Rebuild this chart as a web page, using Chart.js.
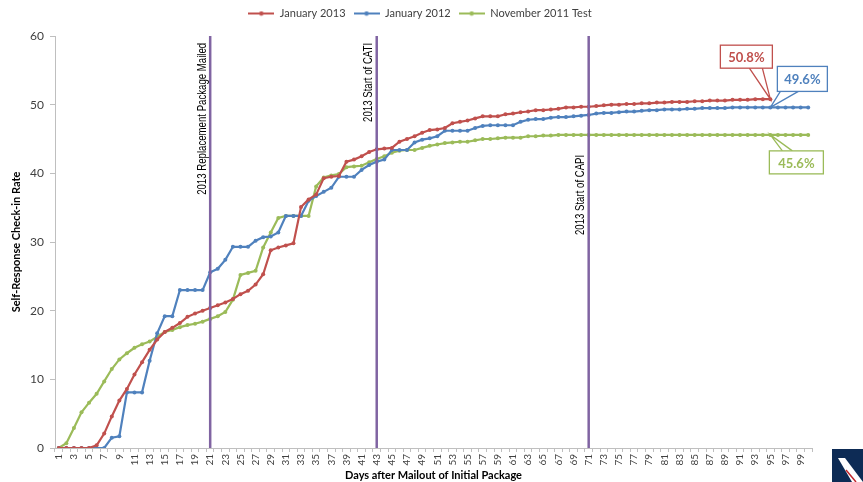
<!doctype html>
<html lang="en">

<head>
    <meta charset="utf-8">
    <title>Self-Response Check-in Rate</title>
    <style>
        html, body { margin: 0; padding: 0; background: #fff; }
        #wrap { width: 863px; height: 482px; }
    </style>
</head>

<body>
    <div id="wrap"><canvas id="myChart" width="863" height="482"></canvas></div>

    <script src="https://cdn.jsdelivr.net/npm/chart.js@4.3.0/dist/chart.umd.min.js"></script>
    <script>
        // days 1..100
        const days = [];
        for (let d = 1; d <= 100; d++) days.push(String(d));

        const jan2013 = [
            0, 0, 0, 0, 0, 0.4, 2.1, 4.6, 6.9, 8.6,
            10.7, 12.5, 14.3, 15.8, 16.9, 17.5, 18.2, 19.1, 19.6, 20.0,
            20.4, 20.8, 21.2, 21.7, 22.4, 22.9, 23.8, 25.3, 28.8, 29.2,
            29.5, 29.8, 35.1, 36.2, 36.9, 39.3, 39.5, 39.6, 41.7, 42.0,
            42.5, 43.1, 43.5, 43.6, 43.7, 44.6, 45.0, 45.4, 45.9, 46.3,
            46.4, 46.6, 47.3, 47.5, 47.7, 48.0, 48.3, 48.3, 48.3, 48.6,
            48.7, 48.9, 49.0, 49.2, 49.2, 49.3, 49.4, 49.6, 49.6, 49.7,
            49.7, 49.8, 49.9, 50.0, 50.0, 50.1, 50.1, 50.2, 50.2, 50.3,
            50.3, 50.4, 50.4, 50.4, 50.5, 50.5, 50.6, 50.6, 50.6, 50.7,
            50.7, 50.7, 50.8, 50.8, 50.8, null, null, null, null, null
        ];

        const jan2012 = [
            0, 0, 0, 0, 0, 0, 0, 1.5, 1.7, 8.1,
            8.1, 8.1, 12.7, 16.7, 19.2, 19.2, 23.0, 23.0, 23.0, 23.0,
            25.6, 26.1, 27.4, 29.3, 29.3, 29.3, 30.2, 30.7, 30.8, 31.4,
            33.8, 33.8, 33.8, 36.0, 36.7, 37.3, 37.9, 39.5, 39.5, 39.5,
            40.5, 41.2, 41.7, 42.0, 43.4, 43.4, 43.4, 44.5, 44.9, 45.1,
            45.4, 46.2, 46.2, 46.2, 46.2, 46.6, 46.9, 47.0, 47.0, 47.0,
            47.0, 47.5, 47.8, 47.9, 47.9, 48.1, 48.2, 48.2, 48.3, 48.4,
            48.5, 48.7, 48.8, 48.8, 48.9, 49.0, 49.0, 49.1, 49.2, 49.2,
            49.3, 49.3, 49.3, 49.4, 49.4, 49.5, 49.5, 49.5, 49.5, 49.6,
            49.6, 49.6, 49.6, 49.6, 49.6, 49.6, 49.6, 49.6, 49.6, 49.6
        ];

        const nov2011 = [
            0, 0.7, 2.9, 5.2, 6.6, 7.9, 9.7, 11.5, 12.9, 13.8,
            14.6, 15.1, 15.5, 16.2, 16.9, 17.2, 17.6, 17.9, 18.1, 18.4,
            18.8, 19.2, 19.8, 21.6, 25.2, 25.5, 25.8, 29.2, 31.4, 33.5,
            33.8, 33.8, 33.8, 33.8, 38.1, 39.4, 39.7, 39.9, 40.9, 41.0,
            41.1, 41.6, 42.1, 42.5, 43.0, 43.3, 43.4, 43.4, 43.7, 44.0,
            44.2, 44.4, 44.5, 44.6, 44.6, 44.8, 45.0, 45.0, 45.1, 45.2,
            45.2, 45.2, 45.4, 45.4, 45.5, 45.5, 45.6, 45.6, 45.6, 45.6,
            45.6, 45.6, 45.6, 45.6, 45.6, 45.6, 45.6, 45.6, 45.6, 45.6,
            45.6, 45.6, 45.6, 45.6, 45.6, 45.6, 45.6, 45.6, 45.6, 45.6,
            45.6, 45.6, 45.6, 45.6, 45.6, 45.6, 45.6, 45.6, 45.6, 45.6
        ];

        // vertical event markers (day, label)
        const eventDays = ["21", "43", "71"];
        const eventLabels = ["2013 Replacement Package Mailed", "2013 Start of CATI", "2013 Start of CAPI"];

        // callouts at day 95
        const calloutDay = "95";
        const calloutText = ["50.8%", "49.6%", "45.6%"];

        const RED = '#c0504d', BLUE = '#4f81bd', GREEN = '#9bbb59', PURPLE = '#8064a2';
        const FONT = 'Lato, "Open Sans", sans-serif';
        const NARROW = '"Liberation Sans Narrow", "Liberation Sans", sans-serif';

        // legend swatch: short line with a marker dot in the middle
        function swatch(color) {
            const c = document.createElement('canvas');
            c.width = 26;
            c.height = 6;
            const g = c.getContext('2d');
            g.strokeStyle = color;
            g.lineWidth = 2;
            g.beginPath();
            g.moveTo(0, 3);
            g.lineTo(26, 3);
            g.stroke();
            g.fillStyle = color;
            g.beginPath();
            g.arc(13, 3, 2.2, 0, Math.PI * 2);
            g.fill();
            return c;
        }

        // extra room under the legend, and nudge it like the original
        const legendSpace = {
            id: 'legendSpace',
            afterInit(chart) {
                const lg = chart.legend;
                const fit = lg.fit;
                lg.fit = function () {
                    fit.call(this);
                    this.height += 7;
                };
            },
            afterLayout(chart) {
                chart.legend.left += 9;
                chart.legend.right += 9;
            }
        };

        const eventsPlugin = {
            id: 'events',
            afterDatasetsDraw(chart) {
                const ctx = chart.ctx, x = chart.scales.x, y = chart.scales.y, area = chart.chartArea;
                const labelTop = [y.getPixelForValue(59), y.getPixelForValue(59), y.getPixelForValue(42.7)];
                ctx.save();
                ctx.font = '13px ' + NARROW;
                const squeeze = 152 / ctx.measureText(eventLabels[0]).width;
                ctx.restore();
                eventDays.forEach((d, i) => {
                    const px = x.getPixelForValue(days.indexOf(d));
                    ctx.save();
                    ctx.strokeStyle = PURPLE;
                    ctx.lineWidth = 2.5;
                    ctx.beginPath();
                    ctx.moveTo(px, area.top);
                    ctx.lineTo(px, area.bottom);
                    ctx.stroke();
                    ctx.translate(px - 8, labelTop[i]);
                    ctx.rotate(-Math.PI / 2);
                    ctx.scale(squeeze, 1);
                    ctx.fillStyle = '#000';
                    ctx.font = '13px ' + NARROW;
                    ctx.textAlign = 'right';
                    ctx.textBaseline = 'middle';
                    ctx.fillText(eventLabels[i], 0, 0);
                    ctx.restore();
                });
            }
        };

        const calloutPlugin = {
            id: 'callouts',
            afterDraw(chart) {
                const ctx = chart.ctx;
                const idx = days.indexOf(calloutDay);
                // box offsets relative to the anchor point
                const boxes = [
                    { c: RED, dx: -50, dy: -54, w: 52, h: 23, w1: -21, w2: -8, edge: 'bottom' },
                    { c: BLUE, dx: 7, dy: -41, w: 50, h: 25, w1: 10, w2: 28, edge: 'bottom' },
                    { c: GREEN, dx: -1, dy: 16, w: 54, h: 23, w1: 12, w2: 22, edge: 'top' }
                ];
                chart.data.datasets.forEach((ds, i) => {
                    const pt = chart.getDatasetMeta(i).data[idx];
                    const b = boxes[i];
                    const left = pt.x + b.dx, top = pt.y + b.dy;
                    const ey = b.edge === 'bottom' ? top + b.h : top;
                    ctx.save();
                    ctx.fillStyle = '#fff';
                    ctx.strokeStyle = b.c;
                    ctx.lineWidth = 1.3;
                    ctx.beginPath();
                    ctx.moveTo(pt.x + b.w1, ey);
                    ctx.lineTo(pt.x, pt.y);
                    ctx.lineTo(pt.x + b.w2, ey);
                    ctx.stroke();
                    ctx.fillRect(left, top, b.w, b.h);
                    ctx.strokeRect(left, top, b.w, b.h);
                    ctx.fillStyle = b.c;
                    ctx.font = 'bold 13px ' + FONT;
                    ctx.textAlign = 'center';
                    ctx.textBaseline = 'middle';
                    ctx.fillText(calloutText[i], left + b.w / 2, top + b.h / 2 + 1);
                    ctx.restore();
                });

                // small logo corner
                ctx.save();
                ctx.fillStyle = '#0d2b55';
                ctx.fillRect(832, 449, 31, 33);
                ctx.fillStyle = '#fff';
                ctx.beginPath();
                ctx.moveTo(838, 458);
                ctx.lineTo(845, 458);
                ctx.lineTo(863, 482);
                ctx.lineTo(852, 482);
                ctx.closePath();
                ctx.fill();
                ctx.strokeStyle = '#c0272d';
                ctx.lineWidth = 1.5;
                ctx.beginPath();
                ctx.moveTo(846, 470);
                ctx.lineTo(856, 482);
                ctx.stroke();
                ctx.restore();
            }
        };

        function lineSet(label, values, color) {
            return {
                label: label,
                data: values,
                borderColor: color,
                backgroundColor: color,
                pointBackgroundColor: color,
                pointBorderColor: color,
                borderWidth: 2.2,
                pointRadius: 2,
                pointBorderWidth: 0,
                fill: false,
                tension: 0,
                spanGaps: false
            };
        }

        const swatches = [swatch(RED), swatch(BLUE), swatch(GREEN)];

        const config = {
            type: 'line',
            data: {
                labels: days,
                datasets: [
                    lineSet('January 2013', jan2013, RED),
                    lineSet('January 2012', jan2012, BLUE),
                    lineSet('November 2011 Test', nov2011, GREEN)
                ]
            },
            options: {
                responsive: false,
                animation: false,
                layout: { padding: { left: 10, right: 51, top: 0, bottom: 0 } },
                plugins: {
                    legend: {
                        position: 'top',
                        labels: {
                            usePointStyle: true,
                            pointStyleWidth: 26,
                            padding: 8,
                            color: '#404040',
                            font: { family: FONT, size: 11 },
                            generateLabels: chart => {
                                const items = Chart.defaults.plugins.legend.labels.generateLabels(chart);
                                items.forEach((it, i) => { it.pointStyle = swatches[i]; });
                                return items;
                            }
                        }
                    },
                    tooltip: { enabled: false }
                },
                scales: {
                    x: {
                        offset: true,
                        grid: { drawOnChartArea: false, color: '#bfbfbf', tickLength: 4, offset: true },
                        border: { color: '#bfbfbf' },
                        ticks: {
                            autoSkip: false,
                            maxRotation: 90,
                            minRotation: 90,
                            padding: 2,
                            color: '#404040',
                            font: { family: FONT, size: 10 },
                            callback: (v, i) => i % 2 === 0 ? days[i] : ''
                        },
                        title: {
                            display: true,
                            text: 'Days after Mailout of Initial Package',
                            color: '#000',
                            padding: { top: 0, bottom: 0 },
                            font: { family: FONT, size: 11, weight: 'bold' }
                        },
                        afterFit: s => { s.height = 34; }
                    },
                    y: {
                        min: 0,
                        max: 60,
                        ticks: {
                            stepSize: 10,
                            padding: 6,
                            color: '#404040',
                            font: { family: FONT, size: 12 }
                        },
                        grid: { drawOnChartArea: false, color: '#bfbfbf', tickLength: 5 },
                        border: { color: '#bfbfbf' },
                        title: {
                            display: true,
                            text: 'Self-Response Check-in Rate',
                            color: '#000',
                            padding: { top: 0, bottom: 6 },
                            font: { family: FONT, size: 11, weight: 'bold' }
                        },
                        afterFit: s => { s.width = 45; }
                    }
                }
            },
            plugins: [legendSpace, eventsPlugin, calloutPlugin]
        };

        new Chart(document.getElementById('myChart'), config);
    </script>
</body>

</html>
